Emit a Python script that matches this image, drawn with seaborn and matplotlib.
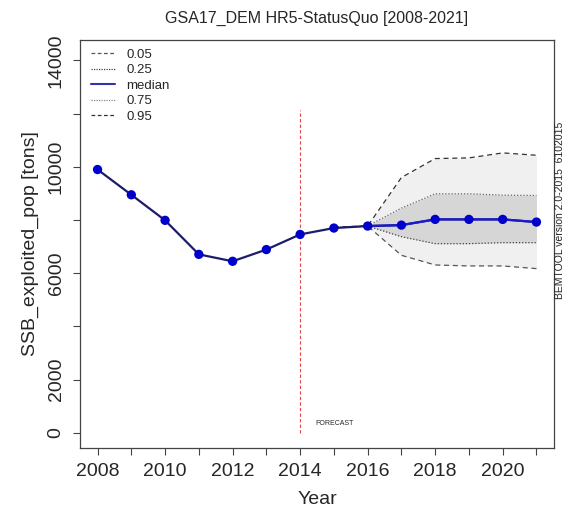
import numpy as np
import matplotlib
matplotlib.use("Agg")
import matplotlib.pyplot as plt
import seaborn as sns
from matplotlib.lines import Line2D

# values
years = np.arange(2008, 2022)
ssb_median = [9900, 8950, 7990, 6710, 6450, 6890, 7460, 7700, 7775, 7810, 8025, 8025, 8025, 7925]

fc_years = np.arange(2015, 2022)
q05 = [7700, 7775, 6675, 6312, 6275, 6275, 6175]
q25 = [7700, 7775, 7375, 7112, 7112, 7150, 7150]
q75 = [7720, 7775, 8450, 8987, 8987, 8937, 8925]
q95 = [7740, 7775, 9600, 10312, 10337, 10525, 10437]

forecast_year = 2014
y_ticks = [0, 2000, 4000, 6000, 8000, 10000, 12000, 14000]
y_labels = ["0", "2000", "", "6000", "", "10000", "", "14000"]
x_labels = [str(y) if y % 2 == 0 else "" for y in years]

sns.set_style("ticks")
plt.rcParams['font.family'] = ['Liberation Sans', 'DejaVu Sans']

fig = plt.figure(figsize=(5.68, 5.19), dpi=100)
ax = fig.add_axes([80 / 568, 1 - 448 / 519, 474 / 568, 408 / 519])

# shaded bands (from 2016 on)
ax.fill_between(fc_years[1:], q05[1:], q95[1:], color="#f0f0f0", lw=0)
ax.fill_between(fc_years[1:], q25[1:], q75[1:], color="#d6d6d6", lw=0)

sns.lineplot(x=fc_years, y=q05, ax=ax, color="#555555", lw=0.9, linestyle=(0, (4, 3)))
sns.lineplot(x=fc_years, y=q95, ax=ax, color="#333333", lw=0.9, linestyle=(0, (4, 3)))
sns.lineplot(x=fc_years, y=q25, ax=ax, color="#444444", lw=0.9, linestyle=(0, (1, 1.5)))
sns.lineplot(x=fc_years, y=q75, ax=ax, color="#666666", lw=0.9, linestyle=(0, (1, 1.5)))

# median: historic in navy, forecast in blue
sns.lineplot(x=years, y=ssb_median, ax=ax, color="#1c1c6b", lw=1.6)
sns.lineplot(x=years[8:], y=ssb_median[8:], ax=ax, color="#1a1ad0", lw=1.6)
sns.scatterplot(x=years, y=ssb_median, ax=ax, color="#0000cc", s=45, edgecolor="none", zorder=5)

ax.plot([forecast_year, forecast_year], [0, 12150], color="#e04848", lw=0.8,
        linestyle=(0, (3, 2)))
ax.text(2014.45, 360, "FORECAST", fontsize=5, ha="left", va="center")

ax.set_xlim(2007.48, 2021.52)
ax.set_ylim(-570, 14770)
ax.set_xticks(years)
ax.set_xticklabels(x_labels)
ax.set_yticks(y_ticks)
ax.set_yticklabels(y_labels, rotation=90, va="center")
ax.tick_params(axis="both", labelsize=14, length=5, width=0.8, color="#444444")
ax.tick_params(axis="x", pad=6)
ax.tick_params(axis="y", pad=6)
for sp in ax.spines.values():
    sp.set_visible(True)
    sp.set_color("#444444")
    sp.set_linewidth(0.9)

ax.set_xlabel("Year", fontsize=14, labelpad=8)
ax.set_ylabel("SSB_exploited_pop [tons]", fontsize=14, labelpad=6)
ax.set_title("GSA17_DEM HR5-StatusQuo [2008-2021]", fontsize=11.5, pad=12)

handles = [
    Line2D([], [], color="#555555", lw=0.9, linestyle=(0, (3, 2))),
    Line2D([], [], color="#444444", lw=0.9, linestyle=(0, (1, 1))),
    Line2D([], [], color="#3333aa", lw=1.5),
    Line2D([], [], color="#888888", lw=0.9, linestyle=(0, (1, 1))),
    Line2D([], [], color="#333333", lw=0.9, linestyle=(0, (3, 2))),
]
ax.legend(handles, ["0.05", "0.25", "median", "0.75", "0.95"], loc="upper left",
          bbox_to_anchor=(0.023, 0.979), frameon=False, fontsize=9.5,
          handlelength=1.8, handletextpad=0.9, labelspacing=0.25,
          borderaxespad=0, borderpad=0)

fig.text(560 / 568, 1 - 210 / 519, "BEMTOOL version 2.0-2015  6102015", rotation=90,
         fontsize=7.5, ha="center", va="center")

fig.savefig("out.png", dpi=100)
